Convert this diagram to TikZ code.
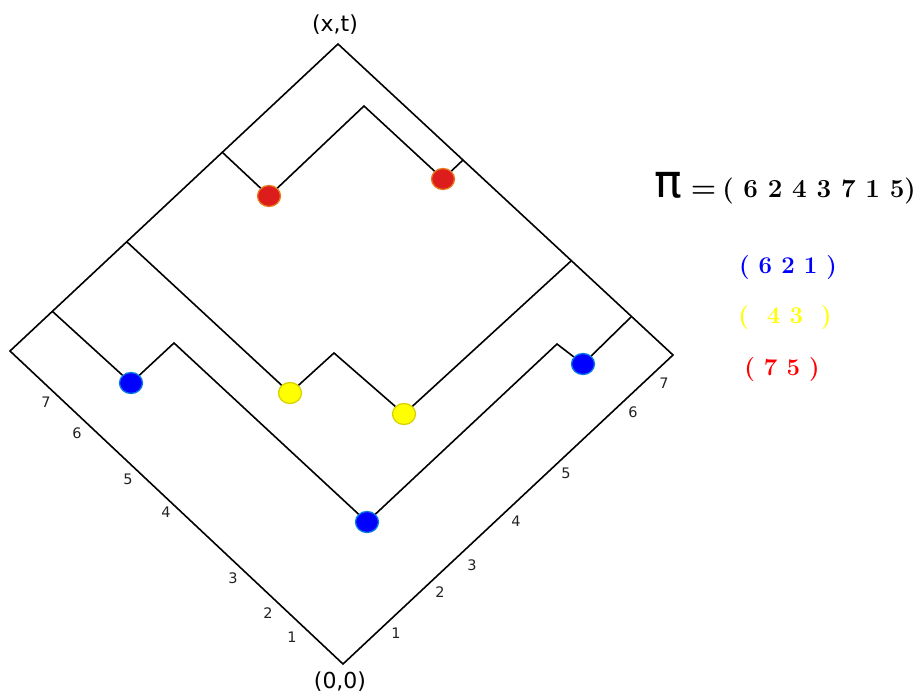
\documentclass[tikz,border=0pt]{standalone}
\usepackage{fontspec}
\setsansfont{DejaVu Sans}
\usetikzlibrary{positioning,shapes.geometric}
\definecolor{cBlue}{HTML}{0000FF}
\definecolor{cBlueRim}{HTML}{0A78E6}
\definecolor{cYel}{HTML}{FFFF00}
\definecolor{cYelRim}{HTML}{D9D200}
\definecolor{cRed}{HTML}{DD1C1C}
\definecolor{cRedRim}{HTML}{E8781E}
\definecolor{cTick}{HTML}{222222}
\tikzset{
  dot/.style={ellipse, line width=1.3pt, minimum width=23pt, minimum height=21pt, inner sep=0pt},
  bdot/.style={dot, draw=cBlueRim, fill=cBlue},
  ydot/.style={dot, draw=cYelRim, fill=cYel},
  rdot/.style={dot, draw=cRedRim, fill=cRed},
  wl/.style={line width=1.6pt, line join=miter},
  tick/.style={font=\sffamily\fontsize{14.5}{15}\selectfont, text=cTick, inner sep=0pt},
  corner/.style={font=\sffamily\fontsize{22}{22}\selectfont, inner sep=0pt},
  perm/.style={font=\bfseries\fontsize{24}{24}\selectfont, inner sep=0pt},
}

\begin{document}
\begin{tikzpicture}[x=1pt, y=-1pt]
    \useasboundingbox (0,0) rectangle (918,693);

    \coordinate (B) at (343,664);
    \coordinate (L) at (10,351);
    \coordinate (T) at (338,44);
    \coordinate (R) at (673,355);
    \draw[wl] (B) -- (L) -- (T) -- (R) -- cycle;

    \node[bdot] (b1) at (131,383) {};
    \node[bdot] (b2) at (367,522) {};
    \node[bdot] (b3) at (583,364) {};
    \node[ydot] (y1) at (290,393) {};
    \node[ydot] (y2) at (404,414) {};
    \node[rdot] (r1) at (269,196) {};
    \node[rdot] (r2) at (443,179) {};

    \coordinate (bl) at (52,311);  \coordinate (bk1) at (174,343);
    \coordinate (bk2) at (557,344); \coordinate (br) at (631,317);
    \coordinate (yl) at (127,242); \coordinate (yk) at (334,353);
    \coordinate (yr) at (571,261);
    \coordinate (rl) at (222,152); \coordinate (rk) at (364,106);
    \coordinate (rr) at (463,160);

    \draw[wl] (bl) -- (b1) -- (bk1) -- (b2) -- (bk2) -- (b3) -- (br);
    \draw[wl] (yl) -- (y1) -- (yk) -- (y2) -- (yr);
    \draw[wl] (rl) -- (r1) -- (rk) -- (r2) -- (rr);

    \node[corner] (xt) at (335,25) {(x,t)};
    \node[corner] (oo) at (340,682) {(0,0)};

    \foreach \n/\px/\py in {1/292/637, 2/268/613, 3/233/578, 4/166/512, 5/128/479, 6/77/433, 7/46/402}
      \node[tick] (lt\n) at (\px,\py) {\n};
    \foreach \n/\px/\py in {1/396/633, 2/440/592, 3/472/565, 4/516/521, 5/566/473, 6/633/412, 7/664/383}
      \node[tick] (rt\n) at (\px,\py) {\n};

    \node[perm, font=\bfseries\fontsize{26}{26}\selectfont, anchor=east] (pi) at (916,188)
      {{\sffamily\mdseries\fontsize{46}{46}\selectfont π}\hspace{9pt}{\fontsize{29}{29}\selectfont =}\hspace{6pt}( 6 2 4 3 7 1 5)};
    \node[perm, text=cBlue] (p1) at (788,268) {( 6 2 1 )};
    \node[perm, text=cYel] (p2) at (785,318) {(\ \ 4 3\ \ )};
    \node[perm, text=red] (p3) at (782,370) {( 7 5 )};
\end{tikzpicture}
\end{document}
